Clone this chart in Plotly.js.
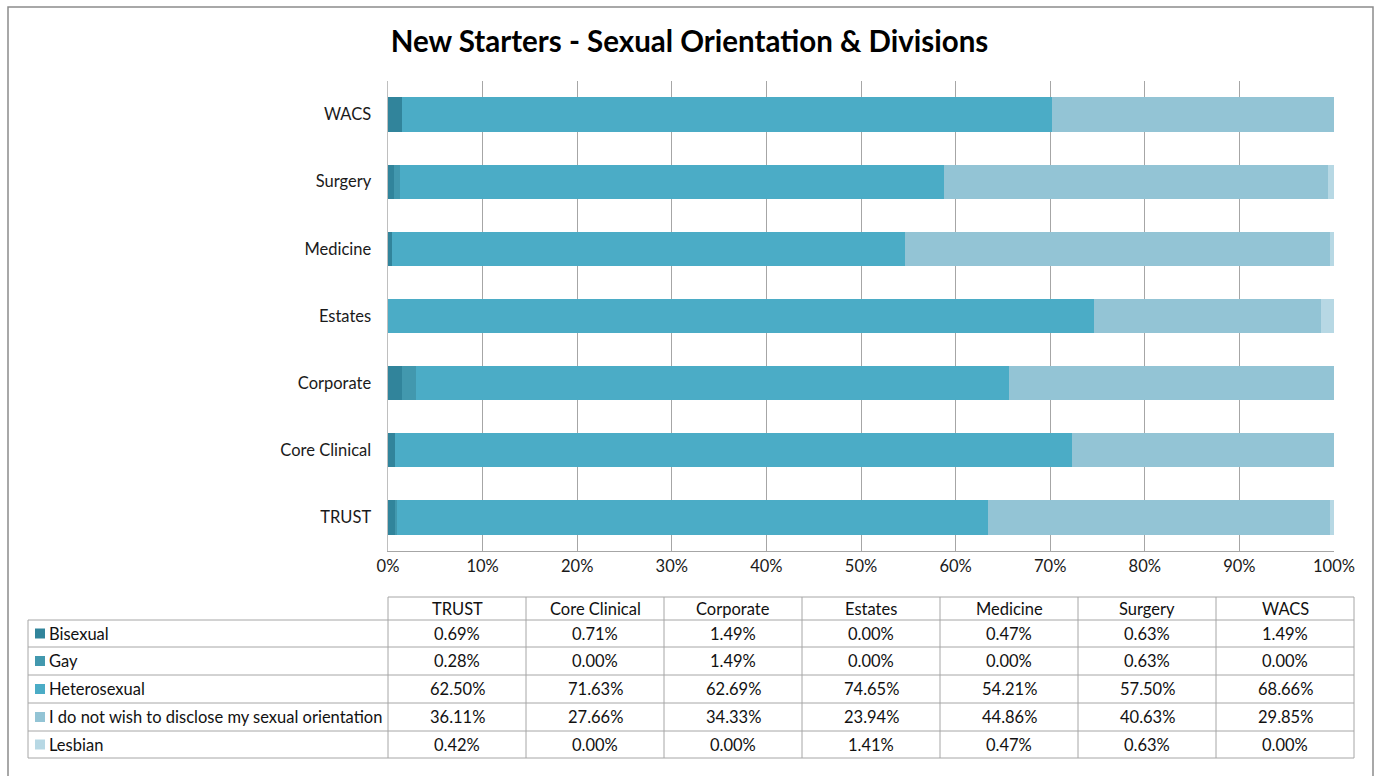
<!DOCTYPE html>
<html>
<head>
<meta charset="utf-8">
<script src="https://cdn.plot.ly/plotly-3.0.1.min.js"></script>
<style>
html,body{margin:0;padding:0;background:#fff;}
#chart{width:1379px;height:776px;}
</style>
</head>
<body>
<div id="chart"></div>
<script>
const divisions = ["TRUST","Core Clinical","Corporate","Estates","Medicine","Surgery","WACS"];
const seriesNames = ["Bisexual","Gay","Heterosexual","I do not wish to disclose my sexual orientation","Lesbian"];
const bisexual   = [0.69, 0.71, 1.49, 0.00, 0.47, 0.63, 1.49];
const gay        = [0.28, 0.00, 1.49, 0.00, 0.00, 0.63, 0.00];
const hetero     = [62.50, 71.63, 62.69, 74.65, 54.21, 57.50, 68.66];
const disclose   = [36.11, 27.66, 34.33, 23.94, 44.86, 40.63, 29.85];
const lesbian    = [0.42, 0.00, 0.00, 1.41, 0.47, 0.63, 0.00];
const xTicks = [0,10,20,30,40,50,60,70,80,90,100];
const xTickLabels = ["0%","10%","20%","30%","40%","50%","60%","70%","80%","90%","100%"];
const colors = ["#31849B","#4298AE","#4BACC6","#93C4D5","#B7D8E4"];
const allSeries = [bisexual, gay, hetero, disclose, lesbian];

const W = 1379, H = 776;
const L = 388, R = 1334, T = 81, B = 551;
const px = x => (x - L) / (R - L);
const py = y => (B - y) / (B - T);
const FONT = "Lato, 'Open Sans', sans-serif";
const TBLSIZE = 16.5;

const traces = allSeries.map((vals, i) => ({
  type: "bar",
  orientation: "h",
  name: seriesNames[i],
  y: divisions,
  x: vals.map(v => v / 100),
  marker: {color: colors[i], line: {width: 0}},
  hoverinfo: "skip"
}));

// Table geometry
const tblLeft = 28, tblColStart = 388, tblRight = 1354;
const colW = (tblRight - tblColStart) / divisions.length;
const headTop = 597;
const rowLines = [620, 647, 675, 703, 731, 758];
const gridCol = "#A6A6A6";
const shapes = [];
const annotations = [];

// outer border
shapes.push({type:"rect", xref:"paper", yref:"paper", x0:px(8), x1:px(1373), y0:py(7), y1:py(790),
  line:{color:"#8C8C8C", width:1.5}, fillcolor:"rgba(0,0,0,0)", layer:"below"});

shapes.push({type:"line", xref:"paper", yref:"paper", x0:px(tblColStart), x1:px(tblRight), y0:py(headTop), y1:py(headTop), line:{color:gridCol, width:1}});
rowLines.forEach(y => shapes.push({type:"line", xref:"paper", yref:"paper", x0:px(tblLeft), x1:px(tblRight), y0:py(y), y1:py(y), line:{color:gridCol, width:1}}));
shapes.push({type:"line", xref:"paper", yref:"paper", x0:px(tblLeft), x1:px(tblLeft), y0:py(rowLines[0]), y1:py(rowLines[rowLines.length-1]), line:{color:gridCol, width:1}});
for (let j = 0; j <= divisions.length; j++) {
  const x = tblColStart + j * colW;
  shapes.push({type:"line", xref:"paper", yref:"paper", x0:px(x), x1:px(x), y0:py(headTop), y1:py(rowLines[rowLines.length-1]), line:{color:gridCol, width:1}});
}
divisions.forEach((d, j) => {
  annotations.push({xref:"paper", yref:"paper", x:px(tblColStart + (j + 0.5) * colW), y:py((headTop + rowLines[0]) / 2),
    text:d, showarrow:false, xanchor:"center", yanchor:"middle", font:{family:FONT, size:TBLSIZE, color:"#111111"}});
});
seriesNames.forEach((s, i) => {
  const yc = (rowLines[i] + rowLines[i+1]) / 2;
  shapes.push({type:"rect", xref:"paper", yref:"paper", x0:px(35), x1:px(45), y0:py(yc - 5), y1:py(yc + 5),
    line:{width:0}, fillcolor:colors[i]});
  annotations.push({xref:"paper", yref:"paper", x:px(47), y:py(yc), text:s, showarrow:false,
    xanchor:"left", yanchor:"middle", font:{family:FONT, size:TBLSIZE, color:"#111111"}});
  allSeries[i].forEach((v, j) => {
    annotations.push({xref:"paper", yref:"paper", x:px(tblColStart + (j + 0.5) * colW), y:py(yc),
      text:v.toFixed(2) + "%", showarrow:false, xanchor:"center", yanchor:"middle",
      font:{family:FONT, size:TBLSIZE, color:"#111111"}});
  });
});

const layout = {
  width: W, height: H,
  margin: {l: L, r: W - R, t: T, b: H - B, pad: 0},
  paper_bgcolor: "#ffffff",
  plot_bgcolor: "#ffffff",
  barmode: "stack",
  bargap: 0.49,
  showlegend: false,
  title: {text: "New Starters - Sexual Orientation & Divisions", x: 0.5, xref: "container", xanchor: "center",
    y: 1 - 42 / H, yref: "container", yanchor: "middle",
    font: {family: FONT, size: 29.5, color: "#000000", weight: "bold"}},
  xaxis: {
    range: [0, 1], tickvals: xTicks.map(v => v / 100), ticktext: xTickLabels,
    showgrid: true, gridcolor: "#A6A6A6", gridwidth: 1,
    showline: true, linecolor: "#A6A6A6", linewidth: 1, mirror: false,
    zeroline: false, ticks: "", ticklen: 0,
    tickfont: {family: FONT, size: 16.5, color: "#1a1a1a"}, fixedrange: true
  },
  yaxis: {
    type: "category", categoryorder: "array", categoryarray: divisions,
    showgrid: false, showline: true, linecolor: "#BFBFBF", linewidth: 1.5,
    zeroline: false, ticks: "", ticklabelstandoff: 12,
    tickfont: {family: FONT, size: 16.5, color: "#1a1a1a"}, fixedrange: true
  },
  shapes: shapes,
  annotations: annotations
};

Plotly.newPlot("chart", traces, layout, {displayModeBar: false, staticPlot: true});
</script>
</body>
</html>
